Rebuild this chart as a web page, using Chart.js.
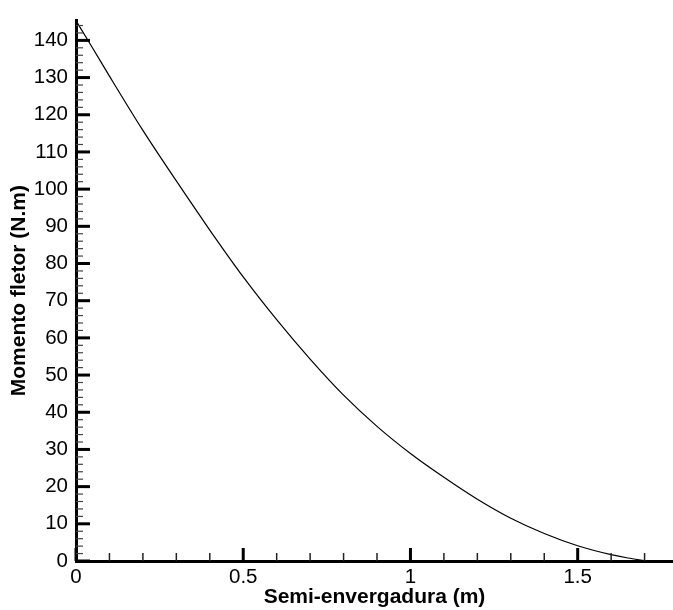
<!DOCTYPE html>
<html>
<head>
<meta charset="utf-8" />
<title>Momento fletor</title>
<script src="https://cdn.jsdelivr.net/npm/chart.js@4"></script>
<style>
    body{
        margin: 0;
        background: #fff;
    }
    .chartContainer{
        width: 673px;
        height: 610px;
    }
</style>
</head>
<body>
<div class="chartContainer">
    <canvas id="myChart"></canvas>
</div>

<script>
// semi-span position (m) and bending moment (N.m)
const semiEnvergadura = [0, 0.05, 0.1, 0.2, 0.3, 0.4, 0.5, 0.6, 0.7, 0.8, 0.9, 1.0, 1.1, 1.2, 1.3, 1.4, 1.5, 1.6, 1.65, 1.7];
const momentoFletor   = [145.3, 137.9, 130.4, 115.8, 102.2, 89.0, 76.4, 64.9, 54.3, 44.6, 36.2, 28.9, 22.5, 16.6, 11.5, 7.4, 4.1, 1.7, 0.8, 0.1];

// axis ticks
const xMajorTicks = [0, 0.5, 1, 1.5];
const xMinorTicks = [0.1, 0.2, 0.3, 0.4, 0.6, 0.7, 0.8, 0.9, 1.1, 1.2, 1.3, 1.4, 1.6, 1.7];
const yMajorTicks = [0, 10, 20, 30, 40, 50, 60, 70, 80, 90, 100, 110, 120, 130, 140];
const yMinorTicks = [];
for (let v = 2; v <= 144; v += 2) {
    if (v % 10 !== 0) yMinorTicks.push(v);
}

const xMax = 1.785;
const yMax = 145.4;

const fontFamily = "'Liberation Sans', Arial, sans-serif";

const points = semiEnvergadura.map((x, i) => ({x: x, y: momentoFletor[i]}));

// tecplot style ticks pointing into the plot
const innerTicks = {
    id: 'innerTicks',
    afterDraw(chart) {
        const ctx = chart.ctx;
        const xs = chart.scales.x;
        const ys = chart.scales.y;
        const area = chart.chartArea;
        ctx.save();
        ctx.lineCap = 'butt';
        function tick(x1, y1, x2, y2, w, c) {
            ctx.beginPath();
            ctx.lineWidth = w;
            ctx.strokeStyle = c;
            ctx.moveTo(x1, y1);
            ctx.lineTo(x2, y2);
            ctx.stroke();
        }
        xMinorTicks.forEach(v => {
            const px = xs.getPixelForValue(v);
            tick(px, area.bottom, px, area.bottom - 8, 1.5, '#222');
        });
        xMajorTicks.forEach(v => {
            const px = xs.getPixelForValue(v);
            tick(px, area.bottom, px, area.bottom - 13, 3, '#000');
        });
        yMinorTicks.forEach(v => {
            const py = ys.getPixelForValue(v);
            tick(area.left, py, area.left + 7, py, 1.2, '#444');
        });
        yMajorTicks.forEach(v => {
            const py = ys.getPixelForValue(v);
            tick(area.left, py, area.left + 14, py, 3, '#000');
        });
        ctx.restore();
    }
};

var ctx = document.getElementById('myChart').getContext('2d');
var chart = new Chart(ctx, {
    type: 'line',
    data: {
        datasets: [{
            label: 'Momento fletor',
            data: points,
            borderColor: '#000',
            borderWidth: 1.2,
            pointRadius: 0,
            fill: false,
            cubicInterpolationMode: 'monotone'
        }]
    },
    options: {
        responsive: true,
        maintainAspectRatio: false,
        animation: false,
        layout: {
            padding: {top: 13, right: 0, bottom: 0, left: 0}
        },
        plugins: {
            legend: {display: false},
            tooltip: {enabled: false}
        },
        scales: {
            x: {
                type: 'linear',
                min: 0,
                max: xMax,
                grid: {display: false, drawTicks: false},
                border: {display: true, color: '#000', width: 3},
                afterBuildTicks: scale => {
                    scale.ticks = xMajorTicks.map(v => ({value: v}));
                },
                afterFit: scale => {
                    scale.height = 49;
                },
                ticks: {
                    color: '#000',
                    padding: 4,
                    maxRotation: 0,
                    font: {family: fontFamily, size: 20.5},
                    callback: v => String(v)
                },
                title: {
                    display: true,
                    text: 'Semi-envergadura (m)',
                    color: '#000',
                    padding: {top: 0, bottom: 0},
                    font: {family: fontFamily, size: 21, weight: 'bold'}
                }
            },
            y: {
                type: 'linear',
                min: 0,
                max: yMax,
                grid: {display: false, drawTicks: false},
                border: {display: true, color: '#000', width: 3},
                afterBuildTicks: scale => {
                    scale.ticks = yMajorTicks.map(v => ({value: v}));
                },
                afterFit: scale => {
                    scale.width = 76;
                },
                ticks: {
                    color: '#000',
                    padding: 8,
                    font: {family: fontFamily, size: 20.5},
                    callback: v => String(v)
                },
                title: {
                    display: true,
                    text: 'Momento fletor (N.m)',
                    color: '#000',
                    padding: {top: 7, bottom: 0},
                    font: {family: fontFamily, size: 21, weight: 'bold'}
                }
            }
        }
    },
    plugins: [innerTicks]
});
</script>
</body>
</html>
